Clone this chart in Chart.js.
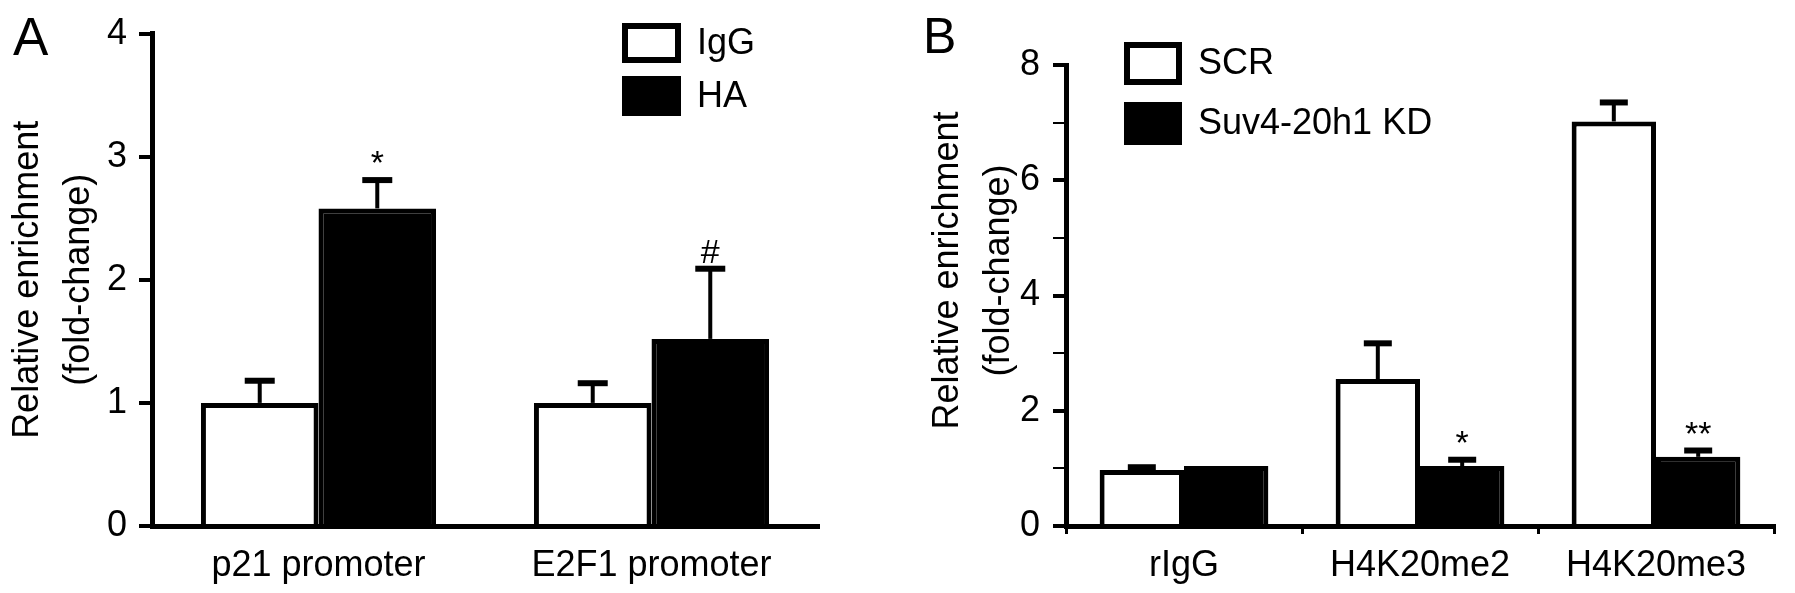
<!DOCTYPE html>
<html>
<head>
<meta charset="utf-8">
<script src="https://cdn.jsdelivr.net/npm/chart.js@4.4.0/dist/chart.umd.min.js"></script>
<style>
  body { margin: 0; background: #fff; }
  #wrap { position: relative; width: 1795px; height: 593px; overflow: hidden; }
  canvas { position: absolute; top: 0; }
  .tag { position: absolute; font-family: "Liberation Sans", Arial, sans-serif; line-height: 1; color: #000; }
</style>
</head>
<body>
<div id="wrap">
  <div class="tag" style="left:13px; top:10px; font-size:53px;">A</div>
  <div class="tag" style="left:923px; top:11px; font-size:50px;">B</div>
  <canvas id="chartA" width="880" height="593" style="left:0px"></canvas>
  <canvas id="chartB" width="915" height="593" style="left:880px"></canvas>
</div>
<script>
// panel A
var labelsA = ["p21 promoter", "E2F1 promoter"];
var igg = [1.0, 1.0];
var iggErr = [0.18, 0.16];
var iggMarks = ["", ""];
var ha = [2.58, 1.52];
var haErr = [0.23, 0.57];
var haMarks = ["*", "#"];

// panel B
var labelsB = ["rIgG", "H4K20me2", "H4K20me3"];
var scr = [0.97, 2.55, 7.02];
var scrErr = [0.05, 0.62, 0.33];
var scrMarks = ["", "", ""];
var kd = [1.04, 1.04, 1.2];
var kdErr = [0, 0.11, 0.11];
var kdMarks = ["", "*", "**"];

var FONT = "'Liberation Sans', Arial, sans-serif";

// error bars (upper only) + significance marks
var errorBars = {
    id: "errorBars",
    afterDatasetsDraw: function (chart, args, opts) {
        var ctx = chart.ctx;
        var yScale = chart.scales.y;
        ctx.save();
        ctx.strokeStyle = "#000";
        ctx.fillStyle = "#000";
        chart.data.datasets.forEach(function (ds, i) {
            var meta = chart.getDatasetMeta(i);
            meta.data.forEach(function (bar, j) {
                var err = ds.errors ? ds.errors[j] : 0;
                var top = yScale.getPixelForValue(ds.data[j] + err);
                if (err > 0) {
                    ctx.lineWidth = 4;
                    ctx.beginPath();
                    ctx.moveTo(bar.x, bar.y);
                    ctx.lineTo(bar.x, top);
                    ctx.stroke();
                    ctx.lineWidth = 6;
                    ctx.beginPath();
                    ctx.moveTo(bar.x - opts.cap / 2, top);
                    ctx.lineTo(bar.x + opts.cap / 2, top);
                    ctx.stroke();
                }
                if (ds.marks && ds.marks[j]) {
                    ctx.font = "34px " + FONT;
                    ctx.textAlign = "center";
                    ctx.textBaseline = "alphabetic";
                    ctx.fillText(ds.marks[j], bar.x, top - 6);
                }
            });
        });
        ctx.restore();
    }
};

// legend drawn as boxes with text
var boxLegend = {
    id: "boxLegend",
    afterDraw: function (chart, args, opts) {
        var ctx = chart.ctx;
        ctx.save();
        chart.data.datasets.forEach(function (ds, i) {
            var x = opts.left, y = opts.top + i * opts.pitch;
            if (ds.backgroundColor === "#000") {
                ctx.fillStyle = "#000";
                ctx.fillRect(x, y, opts.w, opts.h);
            } else {
                ctx.lineWidth = 6;
                ctx.strokeStyle = "#000";
                ctx.strokeRect(x + 3, y + 3, opts.w - 6, opts.h - 6);
            }
            ctx.fillStyle = "#000";
            ctx.font = "36px " + FONT;
            ctx.textAlign = "left";
            ctx.textBaseline = "middle";
            ctx.fillText(ds.label, x + opts.w + 16, y + opts.h / 2 + 1);
        });
        ctx.restore();
    }
};

function makeChart(id, cfg) {
    return new Chart(document.getElementById(id).getContext("2d"), {
        type: "bar",
        data: {
            labels: cfg.labels,
            datasets: [
                {
                    label: cfg.names[0],
                    data: cfg.a,
                    errors: cfg.aErr,
                    marks: cfg.aMarks,
                    backgroundColor: "#fff",
                    borderColor: "#000",
                    borderWidth: 5,
                    categoryPercentage: cfg.catPct,
                    barPercentage: 1
                },
                {
                    label: cfg.names[1],
                    data: cfg.b,
                    errors: cfg.bErr,
                    marks: cfg.bMarks,
                    backgroundColor: "#000",
                    borderColor: "#000",
                    borderWidth: 5,
                    categoryPercentage: cfg.catPct,
                    barPercentage: 1
                }
            ]
        },
        options: {
            responsive: false,
            animation: false,
            devicePixelRatio: 1,
            layout: { autoPadding: false, padding: cfg.padding },
            plugins: {
                legend: { display: false },
                tooltip: { enabled: false },
                errorBars: { cap: cfg.cap },
                boxLegend: cfg.legend
            },
            scales: {
                x: {
                    z: 1,
                    afterFit: function (s) { s.height = 67; },
                    grid: {
                        display: cfg.xTicks,
                        drawOnChartArea: false,
                        drawTicks: cfg.xTicks,
                        tickLength: 8,
                        lineWidth: 3,
                        color: "#000"
                    },
                    border: { display: true, color: "#000", width: 5 },
                    ticks: {
                        color: "#000",
                        font: { family: FONT, size: 36 },
                        padding: cfg.xTicks ? 10 : 18,
                        maxRotation: 0,
                        autoSkip: false
                    }
                },
                y: {
                    min: 0,
                    max: cfg.max,
                    afterFit: function (s) { s.width = cfg.yWidth; },
                    grid: {
                        drawOnChartArea: false,
                        drawTicks: true,
                        tickLength: 13,
                        color: "#000",
                        lineWidth: function (c) {
                            return (c.tick && c.tick.value % cfg.major) ? 2 : 4;
                        }
                    },
                    border: { display: true, color: "#000", width: 5 },
                    ticks: {
                        stepSize: 1,
                        color: "#000",
                        padding: cfg.tickPad,
                        font: { family: FONT, size: 36 },
                        callback: function (v) { return v % cfg.major === 0 ? v : ""; }
                    },
                    title: {
                        display: true,
                        text: cfg.title,
                        color: "#000",
                        font: { family: FONT, size: 36, lineHeight: 1.4 },
                        padding: { top: cfg.titlePad, bottom: 0 }
                    }
                }
            }
        },
        plugins: [errorBars, boxLegend]
    });
}

window.onload = function () {
    makeChart("chartA", {
        labels: labelsA, names: ["IgG", "HA"],
        a: igg, aErr: iggErr, aMarks: iggMarks,
        b: ha, bErr: haErr, bMarks: haMarks,
        catPct: 0.706, max: 4, major: 1,
        padding: { top: 25, right: 62, bottom: 0, left: 0 },
        yWidth: 152, tickPad: 12, titlePad: 3, cap: 30, xTicks: false,
        title: ["Relative enrichment", "(fold-change)"],
        legend: { left: 622, top: 23, w: 59, h: 40, pitch: 53 }
    });

    makeChart("chartB", {
        labels: labelsB, names: ["SCR", "Suv4-20h1 KD"],
        a: scr, aErr: scrErr, aMarks: scrMarks,
        b: kd, bErr: kdErr, bMarks: kdMarks,
        catPct: 0.715, max: 8, major: 2,
        padding: { top: 65, right: 21, bottom: 0, left: 0 },
        yWidth: 186, tickPad: 13, titlePad: 43, cap: 28, xTicks: true,
        title: ["     Relative enrichment", "     (fold-change)"],
        legend: { left: 244, top: 42, w: 58, h: 43, pitch: 60 }
    });
};
</script>
</body>
</html>
